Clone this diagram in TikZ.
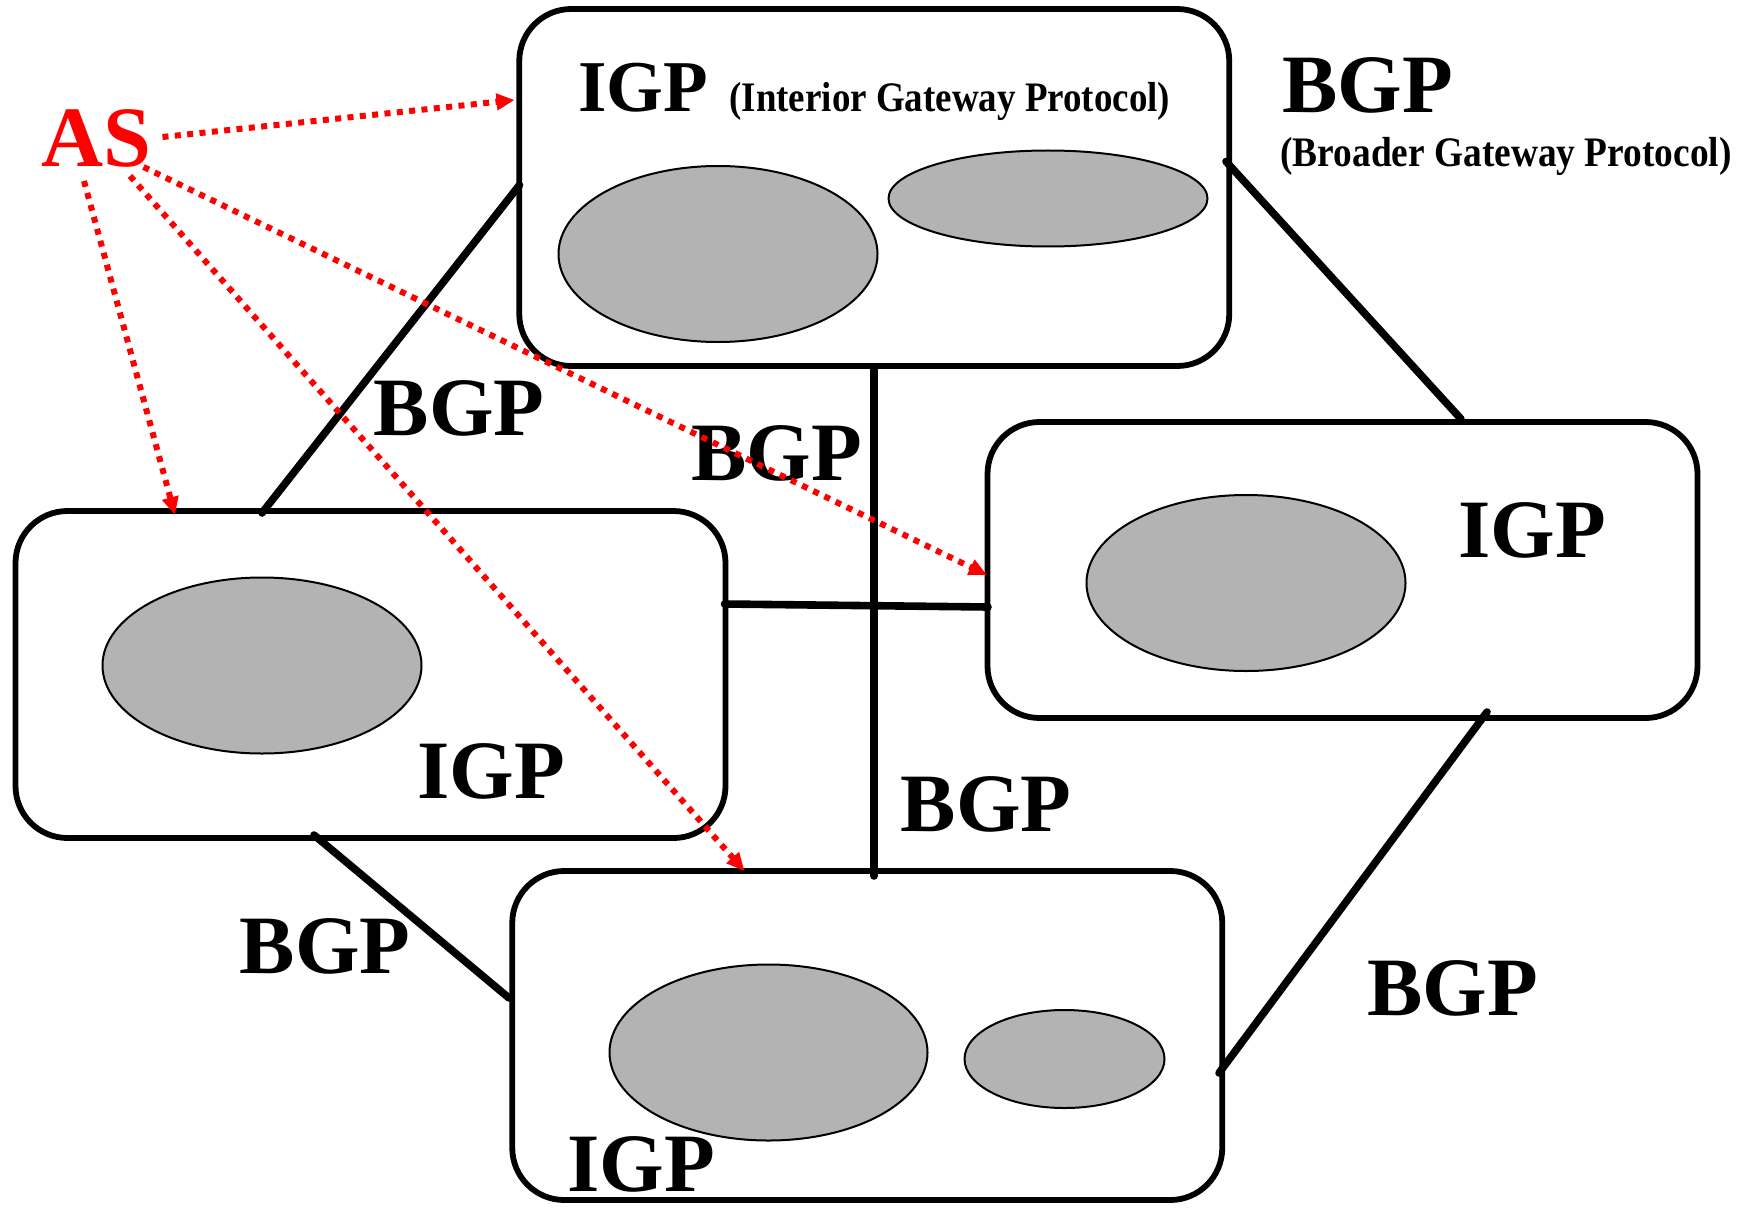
\documentclass[tikz,border=0pt]{standalone}
\usepackage{fontspec}
\setmainfont{Liberation Serif}
\usetikzlibrary{shapes.geometric,arrows.meta}
\definecolor{netgray}{RGB}{179,179,179}
\begin{document}
\begin{tikzpicture}[x=0.5pt,y=-0.5pt,
  asbox/.style={draw,line width=2.9pt,rounded corners=26pt,fill=white,
    inner sep=0pt,minimum width=355pt},
  net/.style={ellipse,draw,line width=1pt,fill=netgray,inner sep=0pt},
  link/.style={line width=3.8pt,line cap=round},
  asarrow/.style={red,line width=3pt,dash pattern=on 3pt off 3.2pt,
    -{Triangle[length=9pt,width=8pt]}},
  lbl/.style={inner sep=0pt,anchor=base west,
    font=\bfseries\fontsize{41.5}{41.5}\selectfont},
  small/.style={inner sep=0pt,anchor=base west,
    font=\bfseries\fontsize{21}{21}\selectfont}]

% canvas
\fill[white] (0,0) rectangle (1748,1209);
\useasboundingbox (0,0) rectangle (1748,1209);

% autonomous systems
\node[asbox,minimum height=178.5pt] (top) at (874.25,187.5) {};
\node[asbox,minimum height=163.5pt] (left) at (370.5,674.5) {};
\node[asbox,minimum height=148pt] (right) at (1342.5,570) {};
\node[asbox,minimum height=164.5pt] (bottom) at (867.25,1035.5) {};

% networks inside each system
\node[net,minimum width=159.5pt,minimum height=88pt] (t1) at (718,254) {};
\node[net,minimum width=159.5pt,minimum height=48pt] (t2) at (1048,198.5) {};
\node[net,minimum width=159.5pt,minimum height=88pt] (l1) at (262,665.5) {};
\node[net,minimum width=159.5pt,minimum height=88pt] (r1) at (1246,583) {};
\node[net,minimum width=159pt,minimum height=88pt] (b1) at (768.5,1052.5) {};
\node[net,minimum width=100pt,minimum height=49pt] (b2) at (1064.5,1059) {};

% link end points on the system borders
\coordinate (tl) at (519.5,185);
\coordinate (lt) at (262,513);
\coordinate (tr) at (1226,161.5);
\coordinate (rt) at (1461,419);
\coordinate (tb) at (874,368);
\coordinate (bt) at (874,876);
\coordinate (lr) at (724.5,604);
\coordinate (rl) at (988,607);
\coordinate (lb) at (314,835);
\coordinate (bl) at (509,998);
\coordinate (rb) at (1487,712);
\coordinate (br) at (1219,1073);

% BGP links between systems
\draw[link] (tl) -- (lt);
\draw[link] (tr) -- (rt);
\draw[link] (tb) -- (bt);
\draw[link] (lr) -- (rl);
\draw[link] (lb) -- (bl);
\draw[link] (rb) -- (br);

% labels
\node[lbl,font=\bfseries\fontsize{36.5}{36.5}\selectfont] (igpT) at (578,112) {IGP};
\node[small] (igpTt) at (729,112) {\scalebox{0.88}[1]{(Interior Gateway Protocol)}};
\node[lbl] (bgpT) at (1282,113) {BGP};
\node[small] (bgpTt) at (1280,167) {\scalebox{0.89}[1]{(Broader Gateway Protocol)}};
\node[lbl] (igpR) at (1458,557) {IGP};
\node[lbl] (igpL) at (417,798) {IGP};
\node[lbl] (igpB) at (567,1191.5) {IGP};
\node[lbl] (bgp1) at (373.5,435) {BGP};
\node[lbl] (bgp2) at (691,480.5) {BGP};
\node[lbl] (bgp3) at (900.5,831.5) {BGP};
\node[lbl] (bgp4) at (239.5,973) {BGP};
\node[lbl] (bgp5) at (1367,1015) {BGP};
\node[lbl,red,font=\bfseries\fontsize{43}{43}\selectfont] (as) at (41,167) {AS};

% AS pointers
\coordinate (a1) at (162.5,137);
\coordinate (a2) at (84,181);
\coordinate (a3) at (130,176);
\coordinate (a4) at (143.5,167);
\coordinate (p1) at (514.5,100);
\coordinate (p2) at (175,515);
\coordinate (p3) at (744.5,871);
\coordinate (p4) at (987,575);
\draw[asarrow] (a1) -- (p1);
\draw[asarrow] (a2) -- (p2);
\draw[asarrow] (a3) -- (p3);
\draw[asarrow] (a4) -- (p4);
\end{tikzpicture}
\end{document}
